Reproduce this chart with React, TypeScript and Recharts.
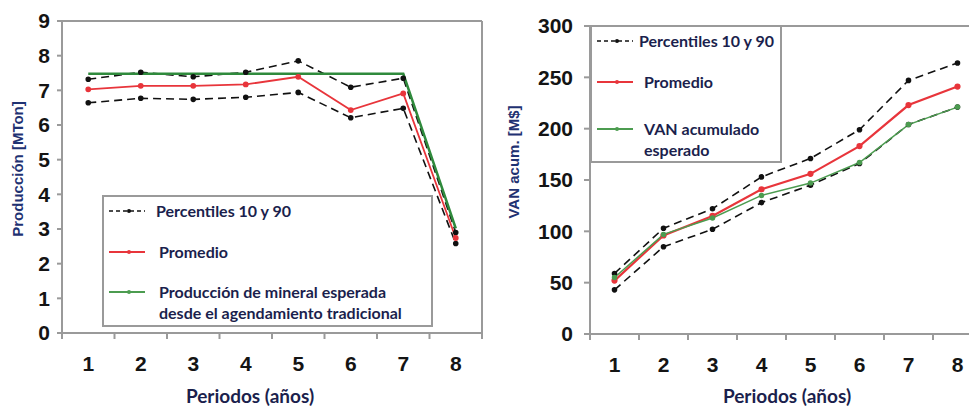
import React from 'react';
import { LineChart, Line, XAxis, YAxis, ReferenceLine } from 'recharts';

// Periods (years) shared by both panels
const periods = [1, 2, 3, 4, 5, 6, 7, 8];

// Production [MTon]
const prodP90 = [7.32, 7.52, 7.39, 7.52, 7.85, 7.09, 7.35, 2.9];
const prodP10 = [6.64, 6.77, 6.74, 6.8, 6.94, 6.21, 6.48, 2.58];
const prodPromedio = [7.03, 7.13, 7.13, 7.17, 7.39, 6.43, 6.91, 2.74];
const prodEsperada = [7.48, 7.48, 7.48, 7.48, 7.48, 7.48, 7.48, 3.02];
const prodTicks = [0, 1, 2, 3, 4, 5, 6, 7, 8, 9];

// Cumulative NPV [M$]
const vanP90 = [59, 103, 122, 153, 171, 199, 247, 264];
const vanP10 = [43, 85, 102, 128, 145, 166, 204, 221];
const vanPromedio = [52, 96, 115, 141, 156, 183, 223, 241];
const vanEsperado = [55, 97, 113, 135, 147, 167, 204, 221];
const vanTicks = [0, 50, 100, 150, 200, 250, 300];

const prodData = periods.map((p, i) => ({
  period: p,
  p90: prodP90[i],
  p10: prodP10[i],
  promedio: prodPromedio[i],
  esperada: prodEsperada[i],
}));

const vanData = periods.map((p, i) => ({
  period: p,
  p90: vanP90[i],
  p10: vanP10[i],
  promedio: vanPromedio[i],
  esperado: vanEsperado[i],
}));

const AXIS_GRAY = '#9a9a9a';
const NAVY = '#1b1f4d';
const TITLE_NAVY = '#1f3272';
const RED = '#e8353b';
const DARK_GREEN = '#2f8a3c';
const LIGHT_GREEN = '#4c9c50';
const NUM_FONT = '"Liberation Sans", Arial, sans-serif';
const TEXT_FONT = 'Lato, "Open Sans", sans-serif';

// x tick: number centred in its period, tick marks on the period boundaries
const makePeriodTick = (band: number) => (props: any) => {
  const { x, y, payload } = props;
  return (
    <g>
      <line x1={x - band / 2} x2={x - band / 2} y1={y} y2={y + 6} stroke={AXIS_GRAY} strokeWidth={2} />
      {payload.value === periods[periods.length - 1] && (
        <line x1={x + band / 2} x2={x + band / 2} y1={y} y2={y + 6} stroke={AXIS_GRAY} strokeWidth={2} />
      )}
      <text
        x={x}
        y={y + 30}
        textAnchor="middle"
        dominantBaseline="central"
        fontFamily={NUM_FONT}
        fontWeight={700}
        fontSize={21}
        fill="#141414"
      >
        {payload.value}
      </text>
    </g>
  );
};

const yTickStyle = { fontFamily: NUM_FONT, fontWeight: 700, fontSize: 21, fill: '#141414' };

const dashedDot = { r: 2, fill: '#111', stroke: '#111', strokeDasharray: '0' };

function LegendSample({ color, dashed, width = 36 }: { color: string; dashed?: boolean; width?: number }) {
  return (
    <svg width={width} height={8} style={{ display: 'block' }}>
      <line
        x1={0}
        x2={width}
        y1={4}
        y2={4}
        stroke={color}
        strokeWidth={dashed ? 1.4 : 2}
        strokeDasharray={dashed ? '4 3' : undefined}
      />
      <circle cx={width / 2 + 2} cy={4} r={2} fill={color} />
    </svg>
  );
}

type LegendRow = { color: string; dashed?: boolean; y: number; textX: number; lines: string[] };

function LegendBox({ left, top, width, height, rows }: { left: number; top: number; width: number; height: number; rows: LegendRow[] }) {
  return (
    <div
      style={{
        position: 'absolute',
        left,
        top,
        width,
        height,
        boxSizing: 'border-box',
        border: `2px solid ${AXIS_GRAY}`,
        background: '#fff',
      }}
    >
      {rows.map((r, i) => (
        <React.Fragment key={i}>
          <div style={{ position: 'absolute', left: 5, top: r.y - 6 }}>
            <LegendSample color={r.color} dashed={r.dashed} />
          </div>
          {r.lines.map((t, j) => (
            <div
              key={j}
              style={{
                position: 'absolute',
                left: r.textX,
                top: r.y - 12 + j * 21,
                lineHeight: '20px',
                whiteSpace: 'nowrap',
                fontFamily: TEXT_FONT,
                fontWeight: 700,
                fontSize: 16,
                color: NAVY,
              }}
            >
              {t}
            </div>
          ))}
        </React.Fragment>
      ))}
    </div>
  );
}

const xTitle = (cx: number) => () =>
  (
    <text x={cx} y={403} textAnchor="middle" fontFamily={TEXT_FONT} fontWeight={700} fontSize={19} fill={NAVY}>
      Periodos (años)
    </text>
  );

const yTitle = (text: string, cx: number, cy: number) => () =>
  (
    <text
      x={cx}
      y={cy}
      transform={`rotate(-90 ${cx} ${cy})`}
      textAnchor="middle"
      dominantBaseline="central"
      fontFamily={NUM_FONT}
      fontWeight={700}
      fontSize={15}
      fill={TITLE_NAVY}
    >
      {text}
    </text>
  );

export default function App() {
  return (
    <div style={{ position: 'absolute', left: 0, top: 0, width: 969, height: 407, overflow: 'hidden', background: '#fff' }}>
      {/* Production panel */}
      <div style={{ position: 'absolute', left: 0, top: 0 }}>
        <LineChart width={490} height={407} data={prodData} margin={{ top: 21, right: 8, bottom: 0, left: 0 }}>
          <XAxis
            type="number"
            dataKey="period"
            domain={[0.5, 8.5]}
            ticks={periods}
            interval={0}
            height={74}
            tickSize={0}
            tickMargin={0}
            tickLine={false}
            axisLine={{ stroke: AXIS_GRAY, strokeWidth: 2 }}
            tick={makePeriodTick(52.5)}
            label={{ content: xTitle(250) }}
          />
          <YAxis
            type="number"
            domain={[0, 9]}
            ticks={prodTicks}
            interval={0}
            width={62}
            tickSize={5}
            tickMargin={7}
            tickLine={{ stroke: AXIS_GRAY, strokeWidth: 2 }}
            axisLine={{ stroke: AXIS_GRAY, strokeWidth: 2 }}
            tick={yTickStyle}
            label={{ content: yTitle('Producción [MTon]', 17, 169) }}
          />
          <ReferenceLine y={9} stroke={AXIS_GRAY} strokeWidth={2} />
          <ReferenceLine x={8.5} stroke={AXIS_GRAY} strokeWidth={2} />
          <Line dataKey="p90" stroke="#111" strokeWidth={1.6} strokeDasharray="8 5" dot={dashedDot} isAnimationActive={false} />
          <Line dataKey="p10" stroke="#111" strokeWidth={1.6} strokeDasharray="8 5" dot={dashedDot} isAnimationActive={false} />
          <Line dataKey="esperada" stroke={DARK_GREEN} strokeWidth={2.6} dot={false} isAnimationActive={false} />
          <Line dataKey="promedio" stroke={RED} strokeWidth={1.8} dot={{ r: 2, fill: RED, stroke: RED }} isAnimationActive={false} />
        </LineChart>
      </div>
      <LegendBox
        left={102}
        top={195}
        width={331}
        height={132}
        rows={[
          { color: '#111', dashed: true, y: 16, textX: 52, lines: ['Percentiles 10 y 90'] },
          { color: RED, y: 57, textX: 55, lines: ['Promedio'] },
          { color: LIGHT_GREEN, y: 97, textX: 55, lines: ['Producción de mineral esperada', 'desde el agendamiento tradicional'] },
        ]}
      />

      {/* Cumulative NPV panel */}
      <div style={{ position: 'absolute', left: 480, top: 0 }}>
        <LineChart width={520} height={407} data={vanData} margin={{ top: 26, right: 18, bottom: 0, left: 0 }}>
          <XAxis
            type="number"
            dataKey="period"
            domain={[0.5, 8.5]}
            ticks={periods}
            interval={0}
            height={73}
            tickSize={0}
            tickMargin={0}
            tickLine={false}
            axisLine={{ stroke: AXIS_GRAY, strokeWidth: 2 }}
            tick={makePeriodTick(49)}
            label={{ content: xTitle(307) }}
          />
          <YAxis
            type="number"
            domain={[0, 300]}
            ticks={vanTicks}
            interval={0}
            width={110}
            tickSize={6}
            tickMargin={11}
            tickLine={{ stroke: AXIS_GRAY, strokeWidth: 2 }}
            axisLine={{ stroke: AXIS_GRAY, strokeWidth: 2 }}
            tick={yTickStyle}
            label={{ content: yTitle('VAN acum. [M$]', 33, 162) }}
          />
          <ReferenceLine y={300} stroke={AXIS_GRAY} strokeWidth={2} />
          <Line dataKey="p90" stroke="#111" strokeWidth={1.6} strokeDasharray="8 5" dot={dashedDot} isAnimationActive={false} />
          <Line dataKey="p10" stroke="#111" strokeWidth={1.6} strokeDasharray="8 5" dot={dashedDot} isAnimationActive={false} />
          <Line dataKey="promedio" stroke={RED} strokeWidth={2.2} dot={{ r: 2, fill: RED, stroke: RED }} isAnimationActive={false} />
          <Line dataKey="esperado" stroke={LIGHT_GREEN} strokeWidth={1.5} dot={{ r: 2, fill: LIGHT_GREEN, stroke: LIGHT_GREEN }} isAnimationActive={false} />
        </LineChart>
      </div>
      <LegendBox
        left={590}
        top={25}
        width={192}
        height={138}
        rows={[
          { color: '#111', dashed: true, y: 16, textX: 47, lines: ['Percentiles 10 y 90'] },
          { color: RED, y: 57, textX: 52, lines: ['Promedio'] },
          { color: LIGHT_GREEN, y: 104, textX: 52, lines: ['VAN acumulado', 'esperado'] },
        ]}
      />
    </div>
  );
}
